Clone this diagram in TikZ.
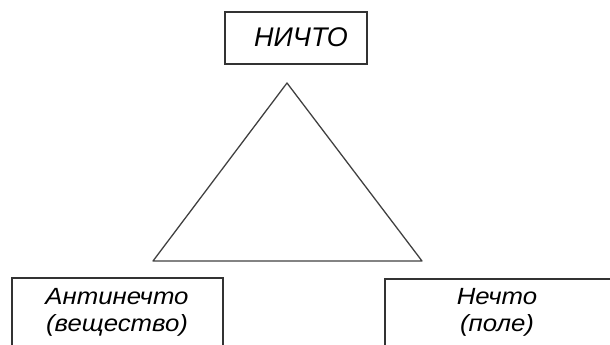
\documentclass[tikz,border=0pt]{standalone}
\usepackage{fontspec}
\setmainfont{Liberation Sans}
\newfontfamily\widesans{Liberation Sans}[FakeStretch=1.1]
\usetikzlibrary{positioning}

\begin{document}
\begin{tikzpicture}[
    x=0.03cm, y=-0.03cm,
    box/.style={draw=black!80, line width=1.5pt},
    boxtext/.style={font=\widesans\itshape\fontsize{20}{23}\selectfont, align=center, inner sep=0pt, anchor=base},
    edge/.style={draw=black!75, line width=1.1pt, line join=round}
]
\useasboundingbox (0,0) rectangle (610,345);
\clip (0,0) rectangle (610,345);

% Top
\draw[box] (225,12) rectangle (367,64);
\node[boxtext, font=\itshape\fontsize{23}{26}\selectfont] (nichto) at (301,47) {НИЧТО};

% Triangle
\coordinate (apex) at (287,83);
\coordinate (bl) at (153,261);
\coordinate (br) at (422,261);
\draw[edge] (apex) -- (bl) -- (br) -- cycle;

% Bottom left
\draw[box] (12,278) rectangle (223,360);
\node[boxtext] (anti) at (117,305) {Антинечто};
\node[boxtext] (vesch) at (117,332) {(вещество)};

% Bottom right
\draw[box] (385,279) rectangle (625,360);
\node[boxtext] (nechto) at (497,305) {Нечто};
\node[boxtext] (pole) at (497,332) {(поле)};
\end{tikzpicture}
\end{document}
